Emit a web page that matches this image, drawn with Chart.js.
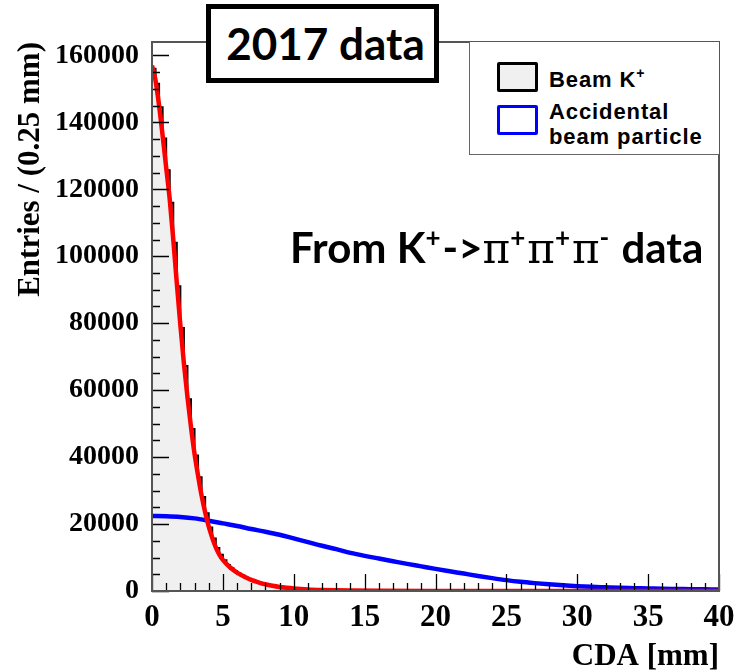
<!DOCTYPE html>
<html>
<head>
<meta charset="utf-8">
<script src="https://cdn.jsdelivr.net/npm/chart.js@4.4.1/dist/chart.umd.min.js"></script>
<style>
  body { margin: 0; background: #fff; }
  #wrap { position: relative; width: 739px; height: 670px; }
  .tag { position: absolute; left: 206px; top: 4px; width: 217px; height: 69px; padding-left: 6px; border: 5px solid #000; background: #fff;
         font: bold 44px Lato, sans-serif; text-align: center; line-height: 69px; color: #000; }
  .note { position: absolute; left: 290px; top: 222px; font: bold 42px Lato, sans-serif; color: #000; white-space: nowrap; }
  .note .pi { font-family: "DejaVu Serif", serif; font-weight: normal; font-size: 42px; }
  .note sup { font-size: 26px; vertical-align: 16px; line-height: 0; margin-right: 2px; }
  .legend { position: absolute; left: 469px; top: 42px; width: 249px; height: 112px; border-left: 1px solid #666; border-bottom: 1px solid #666; background: #fff; }
  .sw { position: absolute; left: 27px; width: 35px; height: 24px; border-style: solid; border-width: 3px; border-radius: 2px; }
  .lt { position: absolute; left: 79px; font: bold 22px "Liberation Sans", Arial, sans-serif; letter-spacing: 0.9px; line-height: 25px; color: #000; white-space: nowrap; }
  .lt sup { font-size: 14px; vertical-align: 9px; line-height: 0; }
</style>
</head>
<body>
<div id="wrap">
  <canvas id="myChart" width="739" height="670"></canvas>
  <div class="legend">
    <div class="sw" style="top:20px; border-color:#000; background:#f0f0f0"></div>
    <div class="lt" style="top:25px">Beam K<sup>+</sup></div>
    <div class="sw" style="top:63px; border-color:#0000ff; background:#fff"></div>
    <div class="lt" style="top:57px">Accidental<br>beam particle</div>
  </div>
  <div class="tag">2017 data</div>
  <div class="note">From K<sup>+</sup>-&gt;<span class="pi">π</span><sup>+</sup><span class="pi">π</span><sup>+</sup><span class="pi">π</span><sup>-</sup> data</div>
</div>
<script>
// bin width of the beam K+ histogram, mm
const binWidth = 0.25;

// axis tick labels
const xTicks = [0, 5, 10, 15, 20, 25, 30, 35, 40];
const yTicks = [0, 20000, 40000, 60000, 80000, 100000, 120000, 140000, 160000];

// Beam K+ histogram, entries per 0.25 mm bin starting at CDA = 0
const beamK = [
  156000, 151500, 144500, 135200, 125700, 116000, 104000, 91000,
  78600, 67200, 57300, 48400, 40500, 34000, 28100, 23200,
  19000, 15700, 12850, 10800, 9200, 7800, 6800, 5950,
  5250, 4600, 4050, 3550, 3150, 2800, 2450, 2150,
  1900, 1700, 1500, 1350, 1200, 1050, 950, 850,
  750, 680, 600, 540, 480, 430, 390, 350,
  310, 280, 250, 220, 200, 180, 160, 145,
  130, 115, 100, 90, 80, 70, 60, 55
];

// fit curve (red)
const fitX = [0, 0.25, 0.5, 0.75, 1, 1.25, 1.5, 1.75, 2, 2.25, 2.5, 2.75, 3, 3.25, 3.5, 3.75, 4, 4.25, 4.5, 4.75, 5,
              5.5, 6, 6.5, 7, 7.5, 8, 8.5, 9, 9.5, 10, 11, 12, 13, 14, 16, 20, 25, 30, 35, 40];
const fitY = [157000, 152500, 145000, 136000, 126500, 117000, 105000, 92000, 79500, 68000, 58000, 49000, 41000, 34500, 28500, 23500, 19300, 15900, 13000, 10900, 9300,
              7100, 5500, 4300, 3300, 2600, 2000, 1550, 1200, 950, 750, 470, 300, 190, 120, 50, 10, 0, 0, 0, 0];

// accidental beam particle (blue), every 1 mm
const accX = [0, 1, 2, 3, 4, 5, 6, 7, 8, 9, 10, 11, 12, 13, 14, 15, 16, 17, 18, 19, 20,
              21, 22, 23, 24, 25, 26, 27, 28, 29, 30, 31, 32, 33, 34, 35, 36, 37, 38, 39, 40];
const accY = [22400, 22300, 22100, 21700, 21000, 20200, 19400, 18500, 17700, 16800, 15700,
              14600, 13500, 12500, 11400, 10500, 9700, 8900, 8100, 7350, 6600,
              5900, 5200, 4500, 3850, 3250, 2750, 2350, 2000, 1700, 1450,
              1250, 1100, 950, 850, 750, 650, 600, 550, 500, 450];

// step outline for the histogram
const histPts = [{x: 0, y: 0}];
beamK.forEach((v, i) => histPts.push({x: i * binWidth, y: v}));
histPts.push({x: beamK.length * binWidth, y: 0});
histPts.push({x: 40, y: 0});

const serif = '"Liberation Serif", "Times New Roman", serif';

// ROOT style frame and inward tick marks
const frameTicks = {
  id: 'frameTicks',
  afterDatasetsDraw(chart) {
    const {ctx, chartArea: {left, right, top, bottom}, scales: {x, y}} = chart;
    ctx.save();
    ctx.strokeStyle = '#000';
    ctx.lineWidth = 1.3;
    ctx.beginPath();
    for (let v = 0; v <= 40; v += 1) {
      const px = Math.round(x.getPixelForValue(v)) + 0.5;
      const len = v % 5 === 0 ? 17 : 8;
      ctx.moveTo(px, bottom);
      ctx.lineTo(px, bottom - len);
    }
    for (let v = 0; v <= 160000; v += 5000) {
      const py = Math.round(y.getPixelForValue(v)) + 0.5;
      const len = v % 20000 === 0 ? 17 : 8;
      ctx.moveTo(left, py);
      ctx.lineTo(left + len, py);
    }
    ctx.stroke();
    ctx.strokeStyle = '#555';
    ctx.lineWidth = 2;
    ctx.strokeRect(left, top, right - left, bottom - top);
    ctx.restore();
  }
};

const options = {
  type: 'line',
  data: {
    datasets: [
      {
        label: 'Fit',
        data: fitX.map((v, i) => ({x: v, y: fitY[i]})),
        borderColor: '#ff0000',
        borderWidth: 4.5,
        pointRadius: 0,
        cubicInterpolationMode: 'monotone',
        fill: false,
        order: 1
      },
      {
        label: 'Accidental beam particle',
        data: accX.map((v, i) => ({x: v, y: accY[i]})),
        borderColor: '#0000ff',
        borderWidth: 4.5,
        pointRadius: 0,
        cubicInterpolationMode: 'monotone',
        fill: false,
        order: 2
      },
      {
        label: 'Beam K+',
        data: histPts,
        stepped: 'before',
        borderColor: '#000',
        borderWidth: 2,
        backgroundColor: '#f0f0f0',
        pointRadius: 0,
        fill: 'origin',
        order: 3
      }
    ]
  },
  options: {
    responsive: false,
    animation: false,
    devicePixelRatio: 1,
    layout: {padding: {top: 42, right: 20, left: 0, bottom: 0}},
    plugins: {legend: {display: false}, tooltip: {enabled: false}},
    scales: {
      x: {
        type: 'linear',
        min: 0,
        max: 40,
        grid: {display: false, drawTicks: false},
        border: {display: false},
        ticks: {padding: 8, autoSkip: false, maxRotation: 0, color: '#000',
                font: {family: serif, weight: 'bold', size: 31}, callback: v => String(v)},
        afterBuildTicks(s) { s.ticks = xTicks.map(v => ({value: v})); },
        title: {display: true, text: 'CDA [mm]', align: 'end', color: '#000', padding: {top: 0, bottom: -2},
                font: {family: serif, weight: 'bold', size: 31, lineHeight: 1}},
        afterFit(s) { s.height = 79; s.paddingLeft = 0; s.paddingRight = 0; }
      },
      y: {
        type: 'linear',
        min: 0,
        max: 164000,
        grid: {display: false, drawTicks: false},
        border: {display: false},
        ticks: {padding: 13, autoSkip: false, color: '#000',
                font: {family: serif, weight: 'bold', size: 28}, callback: v => String(v)},
        afterBuildTicks(s) { s.ticks = yTicks.map(v => ({value: v})); },
        title: {display: true, text: 'Entries / (0.25 mm)', align: 'end', color: '#000', padding: {top: 12, bottom: 0},
                font: {family: serif, weight: 'bold', size: 31, lineHeight: 1.2}},
        afterFit(s) { s.width = 152; s.paddingTop = 0; s.paddingBottom = 0; }
      }
    }
  },
  plugins: [frameTicks]
};

const ctx = document.getElementById('myChart').getContext('2d');
const chart = new Chart(ctx, options);
</script>
</body>
</html>
